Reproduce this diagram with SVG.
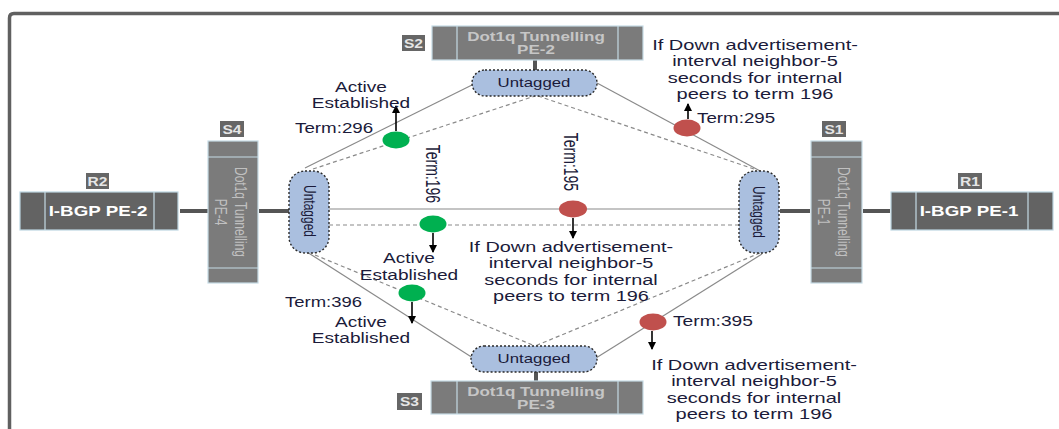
<svg xmlns="http://www.w3.org/2000/svg" width="1059" height="429" viewBox="0 0 1059 429">
<defs>
<style>
.frame{fill:none;stroke:#606060;stroke-width:3.5}
.rbox{fill:#636363;stroke:#bcd6e2;stroke-width:1.2}
.sbox{fill:#7b7b7b;stroke:#c5dbe5;stroke-width:1.2}
.div{stroke:#c5dbe5;stroke-width:1.2}
.lab{fill:#666666}
.labt{font-family:"Liberation Sans",Arial,sans-serif;font-size:12px;font-weight:bold;fill:#e6e6e6;text-anchor:middle}
.rt{font-family:"Liberation Sans",Arial,sans-serif;font-size:14px;font-weight:bold;fill:#ffffff;text-anchor:middle}
.st{font-family:"Liberation Sans",Arial,sans-serif;font-size:12px;font-weight:bold;fill:#c6c6c6;text-anchor:middle}
.vt{font-family:"Liberation Sans",Arial,sans-serif;font-size:12px;fill:#c0c0c0;text-anchor:middle}
.pill{fill:#aabfdf;stroke:#2a2a2a;stroke-width:1.4;stroke-dasharray:2,2}
.pt{font-family:"Liberation Sans",Arial,sans-serif;font-size:12px;fill:#1a1a3a;text-anchor:middle}
.thick{stroke:#555555;stroke-width:4;fill:none}
.sol{stroke:#8a8a8a;stroke-width:1.2;fill:none}
.dsh{stroke:#8a8a8a;stroke-width:1.2;fill:none;stroke-dasharray:4,3}
.arr{stroke:#000;stroke-width:1.6;fill:none;marker-end:url(#ah)}
.g{fill:#00b050}
.r{fill:#c0504d}
.t{font-family:"Liberation Sans",Arial,sans-serif;font-size:14px;fill:#1b1b3a}
.tm{text-anchor:middle}
</style>
<marker id="ah" markerWidth="8" markerHeight="8" refX="7" refY="4" orient="auto" markerUnits="userSpaceOnUse">
<path d="M0,0 L8,4 L0,8 z" fill="#000"/>
</marker>
</defs>
<rect width="1059" height="429" fill="#ffffff"/>
<path class="frame" d="M9.5,429 V18 Q9.5,13.5 14,13.5 H1059"/>

<g id="connectors">
<line class="thick" x1="180" y1="211" x2="208" y2="211"/>
<line class="thick" x1="259" y1="211" x2="289" y2="211"/>
<line class="thick" x1="780" y1="211" x2="810" y2="211"/>
<line class="thick" x1="863" y1="211" x2="890" y2="211"/>
<line class="thick" x1="535" y1="60" x2="535" y2="70"/>
<line class="thick" x1="536" y1="372" x2="536" y2="381"/>
<line class="sol" x1="305" y1="168" x2="474" y2="84"/>
<line class="sol" x1="597" y1="83" x2="762" y2="172"/>
<line class="sol" x1="307" y1="252" x2="473" y2="358"/>
<line class="sol" x1="762" y1="254" x2="596" y2="358"/>
<line class="sol" x1="329" y1="209" x2="739" y2="209"/>
<line class="dsh" x1="313" y1="169" x2="535" y2="96"/>
<line class="dsh" x1="538" y1="96" x2="757" y2="170"/>
<line class="dsh" x1="315" y1="255" x2="535" y2="346"/>
<line class="dsh" x1="760" y1="253" x2="535" y2="346"/>
<line class="dsh" x1="329" y1="225" x2="739" y2="225"/>
<line class="arr" x1="396" y1="131" x2="396" y2="106"/>
<line class="arr" x1="433" y1="233" x2="433" y2="252"/>
<line class="arr" x1="573" y1="218" x2="573" y2="238"/>
<line class="arr" x1="412" y1="302" x2="412" y2="323"/>
<line class="arr" x1="688" y1="119" x2="688" y2="104"/>
<line class="arr" x1="652" y1="331" x2="652" y2="349"/>
</g>

<g id="R2">
<rect class="lab" x="86" y="173" width="23" height="16"/>
<text class="labt" transform="translate(97.5,0) scale(1.3,1)" x="0" y="186">R2</text>
<rect class="rbox" x="20" y="192" width="158" height="38"/>
<line class="div" x1="45" y1="192" x2="45" y2="230"/>
<line class="div" x1="154" y1="192" x2="154" y2="230"/>
<text class="rt" transform="translate(98,0) scale(1.34,1)" x="0" y="216">I-BGP PE-2</text>
</g>

<g id="R1">
<rect class="lab" x="958" y="173" width="24" height="16"/>
<text class="labt" transform="translate(970,0) scale(1.3,1)" x="0" y="186">R1</text>
<rect class="rbox" x="891" y="192" width="162" height="38"/>
<line class="div" x1="916" y1="192" x2="916" y2="230"/>
<line class="div" x1="1028" y1="192" x2="1028" y2="230"/>
<text class="rt" transform="translate(969,0) scale(1.34,1)" x="0" y="216">I-BGP PE-1</text>
</g>

<g id="S4">
<rect class="lab" x="220" y="121" width="24" height="16"/>
<text class="labt" transform="translate(232,0) scale(1.3,1)" x="0" y="134">S4</text>
<rect class="sbox" x="208" y="141" width="50" height="142"/>
<line class="div" x1="208" y1="157" x2="258" y2="157"/>
<line class="div" x1="208" y1="268" x2="258" y2="268"/>
<text class="vt" transform="translate(235,212) rotate(90) scale(1,1.4)"><tspan x="0" y="0">Dot1q Tunnelling</tspan><tspan x="0" y="14">PE-4</tspan></text>
</g>

<g id="S1">
<rect class="lab" x="822" y="121" width="24" height="16"/>
<text class="labt" transform="translate(834,0) scale(1.3,1)" x="0" y="134">S1</text>
<rect class="sbox" x="811" y="141" width="51" height="142"/>
<line class="div" x1="811" y1="157" x2="862" y2="157"/>
<line class="div" x1="811" y1="268" x2="862" y2="268"/>
<text class="vt" transform="translate(838,212) rotate(90) scale(1,1.4)"><tspan x="0" y="0">Dot1q Tunnelling</tspan><tspan x="0" y="14">PE-1</tspan></text>
</g>

<g id="S2">
<rect class="lab" x="402" y="35" width="23" height="16"/>
<text class="labt" transform="translate(413.5,0) scale(1.3,1)" x="0" y="48">S2</text>
<rect class="sbox" x="432" y="26" width="211" height="34"/>
<line class="div" x1="457" y1="26" x2="457" y2="60"/>
<line class="div" x1="618" y1="26" x2="618" y2="60"/>
<text class="st" transform="translate(536,0) scale(1.42,1)"><tspan x="0" y="41">Dot1q Tunnelling</tspan><tspan x="0" y="54">PE-2</tspan></text>
</g>

<g id="S3">
<rect class="lab" x="397" y="393" width="25" height="17"/>
<text class="labt" transform="translate(409.5,0) scale(1.3,1)" x="0" y="406">S3</text>
<rect class="sbox" x="431" y="381" width="212" height="33"/>
<line class="div" x1="457" y1="381" x2="457" y2="414"/>
<line class="div" x1="618" y1="381" x2="618" y2="414"/>
<text class="st" transform="translate(536,0) scale(1.42,1)"><tspan x="0" y="396">Dot1q Tunnelling</tspan><tspan x="0" y="409">PE-3</tspan></text>
</g>

<g id="untagged-top">
<rect class="pill" x="472" y="70" width="125" height="26" rx="13"/>
<text class="pt" transform="translate(534,0) scale(1.4,1)" x="0" y="87">Untagged</text>
</g>
<g id="untagged-bottom">
<rect class="pill" x="471" y="346" width="126" height="26" rx="13"/>
<text class="pt" transform="translate(534,0) scale(1.4,1)" x="0" y="363">Untagged</text>
</g>
<g id="untagged-left">
<rect class="pill" x="289" y="171" width="40" height="82" rx="16"/>
<text class="pt" transform="translate(304,211) rotate(90) scale(1,1.35)" x="0" y="0">Untagged</text>
</g>
<g id="untagged-right">
<rect class="pill" x="739" y="171" width="40" height="82" rx="16"/>
<text class="pt" transform="translate(753,212) rotate(90) scale(1,1.35)" x="0" y="0">Untagged</text>
</g>

<g id="dots">
<ellipse class="g" cx="396" cy="140" rx="13.5" ry="8.5"/>
<ellipse class="g" cx="433" cy="224" rx="13.5" ry="8.5"/>
<ellipse class="g" cx="412" cy="293" rx="13.5" ry="8.5"/>
<ellipse class="r" cx="573" cy="209" rx="14" ry="8.5"/>
<ellipse class="r" cx="687" cy="128" rx="13.5" ry="8.5"/>
<ellipse class="r" cx="653" cy="322" rx="13.5" ry="8.5"/>
</g>

<g id="labels">
<text class="t tm" transform="translate(361,0) scale(1.36,1)"><tspan x="0" y="92">Active</tspan><tspan x="0" y="108">Established</tspan></text>
<text class="t" transform="translate(295,0) scale(1.34,1)" x="0" y="133">Term:296</text>
<text class="t tm" transform="translate(755,0) scale(1.43,1)"><tspan x="0" y="50">If Down advertisement-</tspan><tspan x="0" y="66.5">interval neighbor-5</tspan><tspan x="0" y="83">seconds for internal</tspan><tspan x="0" y="99.5">peers to term 196</tspan></text>
<text class="t" transform="translate(697,0) scale(1.34,1)" x="0" y="123">Term:295</text>
<text class="t" font-size="12" transform="translate(426,174) rotate(90) scale(1,1.5)" text-anchor="middle" x="0" y="0">Term:196</text>
<text class="t" font-size="12" transform="translate(564,162) rotate(90) scale(1,1.5)" text-anchor="middle" x="0" y="0">Term:195</text>
<text class="t tm" transform="translate(571,0) scale(1.42,1)"><tspan x="0" y="252">If Down advertisement-</tspan><tspan x="0" y="268.5">interval neighbor-5</tspan><tspan x="0" y="285">seconds for internal</tspan><tspan x="0" y="301.5">peers to term 196</tspan></text>
<text class="t tm" transform="translate(409,0) scale(1.36,1)"><tspan x="0" y="263">Active</tspan><tspan x="0" y="280">Established</tspan></text>
<text class="t" transform="translate(285,0) scale(1.32,1)" x="0" y="307">Term:396</text>
<text class="t tm" transform="translate(361,0) scale(1.36,1)"><tspan x="0" y="327">Active</tspan><tspan x="0" y="343">Established</tspan></text>
<text class="t" transform="translate(673,0) scale(1.37,1)" x="0" y="326">Term:395</text>
<text class="t tm" transform="translate(754,0) scale(1.43,1)"><tspan x="0" y="370">If Down advertisement-</tspan><tspan x="0" y="386.5">interval neighbor-5</tspan><tspan x="0" y="403">seconds for internal</tspan><tspan x="0" y="419.5">peers to term 196</tspan></text>
</g>
</svg>
